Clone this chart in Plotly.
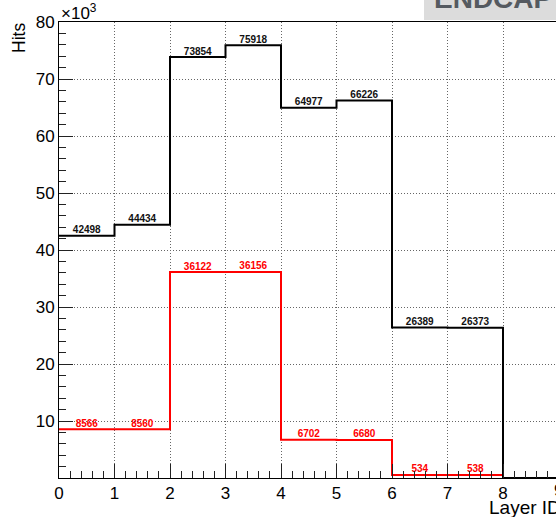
import plotly.graph_objects as go

# ---- data ----
bin_edges = [0, 1, 2, 3, 4, 5, 6, 7, 8, 9, 10]
hits_all = [42498, 44434, 73854, 75918, 64977, 66226, 26389, 26373, 0, 0]
hits_sel = [8566, 8560, 36122, 36156, 6702, 6680, 534, 538, 0, 0]
y_tick_vals = [0, 10000, 20000, 30000, 40000, 50000, 60000, 70000, 80000]
y_tick_text = ["", "10", "20", "30", "40", "50", "60", "70", "80"]
x_tick_vals = [0, 1, 2, 3, 4, 5, 6, 7, 8]
x_tick_text = ["0", "1", "2", "3", "4", "5", "6", "7", "8"]
x_cut_label = 9

FONT = "Liberation Sans, Arial, Helvetica, sans-serif"

W, H = 556, 517
ML, MR, MT, MB = 59, 0, 22, 39
PW, PH = W - ML - MR, H - MT - MB
PX_PER_UNIT = 55.5
XMAX = PW / PX_PER_UNIT


def step_xy(vals):
    return bin_edges, list(vals) + [vals[-1]]


def centers():
    return [(bin_edges[i] + bin_edges[i + 1]) / 2 for i in range(len(bin_edges) - 1)]


fig = go.Figure()

for vals, color in [(hits_sel, "#ff0000"), (hits_all, "#000000")]:
    sx, sy = step_xy(vals)
    fig.add_trace(go.Scatter(x=sx, y=sy, mode="lines", line=dict(color=color, width=2, shape="hv"),
                             hoverinfo="skip", showlegend=False, cliponaxis=False))

for vals, color in [(hits_sel, "#ff0000"), (hits_all, "#111111")]:
    cx = [c for c, v in zip(centers(), vals) if v > 0]
    cy = [v for v in vals if v > 0]
    fig.add_trace(go.Scatter(x=cx, y=cy, mode="text", text=[str(v) for v in cy],
                             textposition="top center",
                             textfont=dict(family=FONT, size=10, color=color, weight="bold"),
                             hoverinfo="skip", showlegend=False, cliponaxis=False))


def px_to_paper_x(px):
    return (px - ML) / PW


def px_to_paper_y(py):
    return (H - MB - py) / PH


axis_common = dict(
    ticks="inside", ticklen=14, tickwidth=1, tickcolor="#222",
    showgrid=True, gridcolor="#666", griddash="1px,2px", gridwidth=1,
    showline=True, linecolor="black", linewidth=1,
    tickfont=dict(size=17, family=FONT, color="black"), zeroline=False, automargin=False,
)

fig.update_layout(
    template="none",
    width=W, height=H,
    margin=dict(l=ML, r=MR, t=MT, b=MB, pad=0, autoexpand=False),
    paper_bgcolor="white", plot_bgcolor="white",
    font=dict(family=FONT, color="black"),
    xaxis=dict(range=[0, XMAX], tickmode="array", tickvals=x_tick_vals, ticktext=x_tick_text,
               minor=dict(dtick=0.2, tick0=0, ticks="inside", ticklen=7, tickcolor="#222", showgrid=False),
               mirror=True, **axis_common),
    yaxis=dict(range=[0, 80000], tickmode="array", tickvals=y_tick_vals, ticktext=y_tick_text,
               minor=dict(dtick=2000, tick0=0, ticks="inside", ticklen=7, tickcolor="#222", showgrid=False),
               mirror=False, **axis_common),
    shapes=[dict(type="rect", xref="paper", yref="paper",
                 x0=px_to_paper_x(424), x1=px_to_paper_x(570),
                 y0=px_to_paper_y(20), y1=px_to_paper_y(-20),
                 fillcolor="#dcdcdc", line=dict(width=0), layer="below")],
    annotations=[
        dict(text="×10<sup>3</sup>", xref="paper", yref="paper", x=0, y=1.0, xanchor="left",
             yanchor="bottom", showarrow=False, font=dict(size=17, family=FONT), yshift=-3),
        dict(text="Hits", xref="paper", yref="paper", x=px_to_paper_x(19), y=px_to_paper_y(38),
             xanchor="center", yanchor="middle", textangle=-90, showarrow=False,
             font=dict(size=17.5, family=FONT)),
        dict(text="Layer ID", xref="paper", yref="paper", x=px_to_paper_x(487), y=px_to_paper_y(507),
             xanchor="left", yanchor="middle", showarrow=False, font=dict(size=19, family=FONT)),
        dict(text=str(x_cut_label), xref="paper", yref="paper",
             x=px_to_paper_x(ML + x_cut_label * PX_PER_UNIT), y=px_to_paper_y(490),
             xanchor="center", yanchor="middle", showarrow=False, font=dict(size=17, family=FONT)),
        dict(text="ENDCAP", xref="paper", yref="paper", x=px_to_paper_x(432), y=1.0,
             xanchor="left", yanchor="bottom", yshift=6, showarrow=False,
             font=dict(size=28, family=FONT, color="#555a60", weight="bold")),
    ],
)

fig.write_html("out.html", config={"displayModeBar": False},
               post_script="document.body.style.margin='0px';document.body.style.overflow='hidden';")
